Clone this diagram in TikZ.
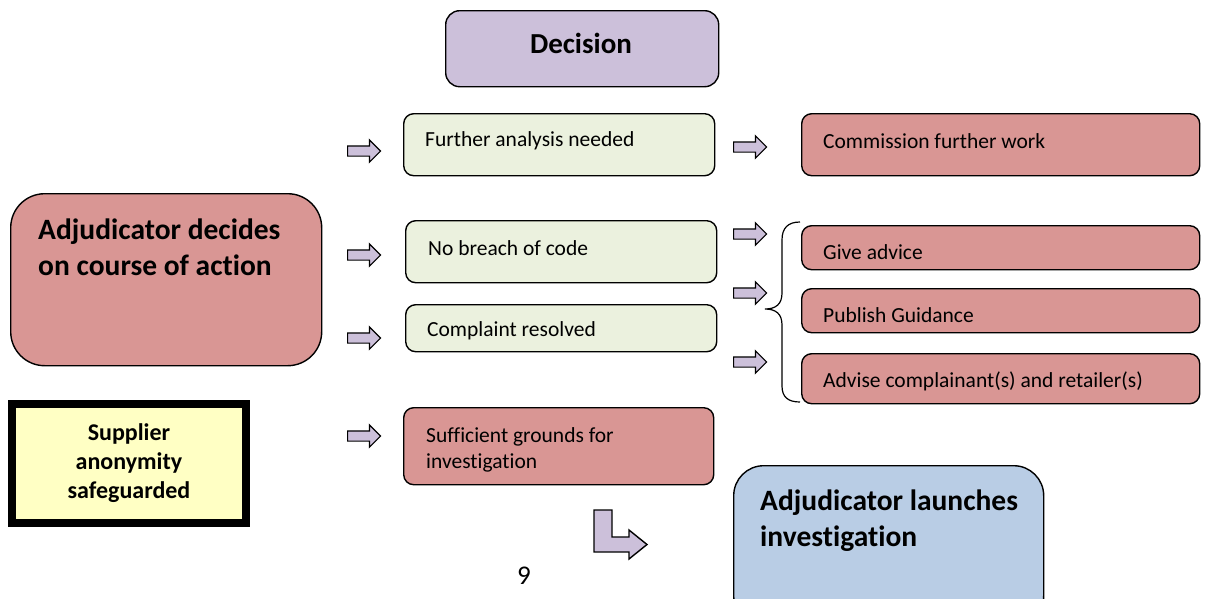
\documentclass[tikz,border=0pt]{standalone}
\usepackage{fontspec}
\setmainfont{Carlito}[Ligatures={TeX,NoCommon}]
\usepackage{tikz}
\usetikzlibrary{arrows.meta,positioning,shapes.arrows,calc}
\usepackage{xcolor}
\definecolor{lilac}{HTML}{CCC0DA}
\definecolor{sage}{HTML}{EBF1DE}
\definecolor{rose}{HTML}{D99694}
\definecolor{sky}{HTML}{B9CDE5}
\definecolor{cream}{HTML}{FFFFC4}

\tikzset{
  box/.style={draw=black, line width=1.4pt, rounded corners=10pt, anchor=north west, inner sep=0pt},
  greenbox/.style={box, fill=sage},
  redbox/.style={box, fill=rose},
  small/.style={anchor=west, inner sep=0pt, align=left, font=\fontsize{21.5}{26}\selectfont},
  big/.style={anchor=north west, inner sep=0pt, align=left, font=\bfseries\fontsize{29.5}{36}\selectfont},
  arr/.style={single arrow, draw=black, line width=1.2pt, fill=lilac, minimum height=33pt, single arrow head extend=6pt, inner xsep=0pt, inner ysep=4.5pt, anchor=tail},
}

\begin{document}
\begin{tikzpicture}[x=1pt, y=-1pt]
  \useasboundingbox (0,0) rectangle (1208,598);

  % heading
  \node[box, fill=lilac, rounded corners=14pt, minimum width=273pt, minimum height=76pt] (decision) at (445,10) {};
  \node[font=\bfseries\fontsize{29}{32}\selectfont, inner sep=0pt] (decisiontxt) at (581,43) {Decision};

  % left column
  \node[redbox, rounded corners=34pt, minimum width=311pt, minimum height=172pt] (decides) at (10,193) {};
  \node[big] (decidestxt) at (38,219) {Adjudicator decides\\on course of action};

  \node[draw=black, line width=8pt, fill=cream, minimum width=234pt, minimum height=119pt, inner sep=0pt] (anon) at (129,463.5) {};
  \node[font=\bfseries\fontsize{24}{29}\selectfont, align=center, inner sep=0pt] (anontxt) at (129,463) {Supplier\\anonymity\\safeguarded};

  % middle column
  \node[greenbox, minimum width=311pt, minimum height=62pt] (further) at (403,113) {};
  \node[small] (furthertxt) at (425,141) {Further analysis needed};
  \node[greenbox, minimum width=311pt, minimum height=62pt] (nobreach) at (405,220) {};
  \node[small] (nobreachtxt) at (428,248) {No breach of code};
  \node[greenbox, minimum width=311pt, minimum height=47pt] (resolved) at (405,304) {};
  \node[small] (resolvedtxt) at (427,331) {Complaint resolved};
  \node[redbox, minimum width=310pt, minimum height=77pt] (grounds) at (403,407) {};
  \node[small, anchor=north west] (groundstxt) at (426,427) {Sufficient grounds for\\investigation};

  % right column
  \node[redbox, minimum width=398pt, minimum height=62pt] (commission) at (801,113) {};
  \node[small] (commissiontxt) at (823,141) {Commission further work};
  \node[redbox, minimum width=398pt, minimum height=44pt] (advice) at (801,225) {};
  \node[small] (advicetxt) at (823,252) {Give advice};
  \node[redbox, minimum width=398pt, minimum height=44pt] (guidance) at (801,288) {};
  \node[small] (guidancetxt) at (823,315) {Publish Guidance};
  \node[redbox, minimum width=398pt, minimum height=50pt] (advise) at (801,353) {};
  \node[small] (advisetxt) at (823,381) {Advise complainant(s) and retailer(s)};

  \node[box, fill=sky, rounded corners=30pt, minimum width=310pt, minimum height=160pt] (launch) at (733,465) {};
  \node[big] (launchtxt) at (760,490) {Adjudicator launches\\investigation};

  % block arrows
  \node[arr] (a1) at (347,151) {};
  \node[arr] (a2) at (347,255) {};
  \node[arr] (a3) at (347,338) {};
  \node[arr] (a4) at (347,436) {};
  \node[arr] (b1) at (733,147) {};
  \node[arr] (b2) at (733,234) {};
  \node[arr] (b3) at (733,293) {};
  \node[arr] (b4) at (733,362) {};

  % brace
  \draw[line width=1.2pt] (800,222) .. controls (788,222) and (782,228) .. (782,240) -- (782,293)
    .. controls (782,304) and (776,309) .. (765,309) .. controls (776,309) and (782,314) .. (782,325)
    -- (782,386) .. controls (782,397) and (788,402) .. (800,402);

  % bent arrow
  \draw[line width=1.4pt, fill=lilac, line join=miter] (594,510) -- (612,510) -- (612,537) -- (629,537)
    -- (629,530) -- (647,544.5) -- (629,559) -- (629,552) -- (594,552) -- cycle;

  \node[font=\fontsize{27}{30}\selectfont, inner sep=0pt] (page) at (524,576) {9};
\end{tikzpicture}
\end{document}
